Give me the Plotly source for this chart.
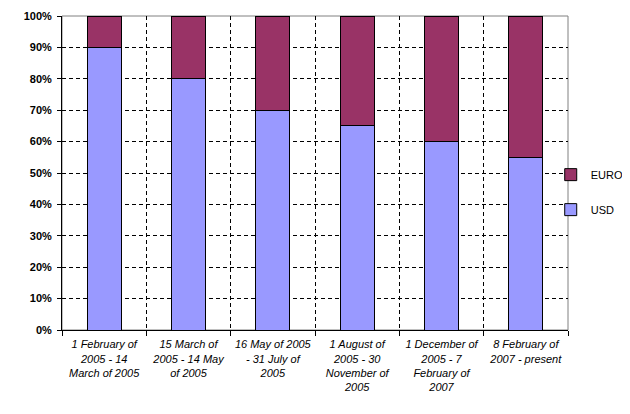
import plotly.graph_objects as go

categories = [
    "1 February of<br>2005 - 14<br>March of 2005",
    "15 March of<br>2005 - 14 May<br>of 2005",
    "16 May of 2005<br>- 31 July of<br>2005",
    "1 August of<br>2005 - 30<br>November of<br>2005",
    "1 December of<br>2005 - 7<br>February of<br>2007",
    "8 February of<br>2007 - present",
]
usd = [90, 80, 70, 65, 60, 55]
euro = [10, 20, 30, 35, 40, 45]

fig = go.Figure()
fig.add_trace(go.Bar(x=categories, y=usd, name="USD", marker=dict(color="#9999FF", line=dict(color="black", width=1)),
                     legendgroup="usd", legendrank=2))
fig.add_trace(go.Bar(x=categories, y=euro, name="EURO", marker=dict(color="#993366", line=dict(color="black", width=1)),
                     legendgroup="euro", legendrank=1))

fig.update_layout(
    width=622, height=398,
    barmode="stack", bargap=0.6,
    plot_bgcolor="white", paper_bgcolor="white",
    margin=dict(l=54, r=62, t=8, b=76, autoexpand=False),
    font=dict(family="Liberation Sans, Arial", color="black", size=11),
    legend=dict(x=1.12, y=0.541, xanchor="right", yanchor="top", traceorder="grouped",
                tracegroupgap=16, font=dict(size=11), itemwidth=30, bgcolor="rgba(0,0,0,0)"),
    shapes=[dict(type="rect", xref="paper", yref="paper", x0=0, x1=1, y0=0, y1=1,
                 line=dict(color="#808080", width=1), layer="below")],
)
fig.update_xaxes(
    type="category", tickson="boundaries", showgrid=True, gridcolor="black", griddash="4px,3px", gridwidth=1,
    ticks="outside", ticklen=5, tickcolor="black", showline=True, linecolor="black", linewidth=1,
    tickfont=dict(size=11, style="italic"), tickangle=0, automargin=False, ticklabelstandoff=4,
)
fig.update_yaxes(
    range=[0, 100], dtick=10, ticksuffix="%", showgrid=True, gridcolor="black", griddash="4px,3px", gridwidth=1,
    ticks="outside", ticklen=4, tickcolor="black", showline=True, linecolor="black", linewidth=1,
    tickfont=dict(size=11, weight="bold"), zeroline=False, automargin=False, ticklabelstandoff=3,
)

fig.write_html("out.html")
